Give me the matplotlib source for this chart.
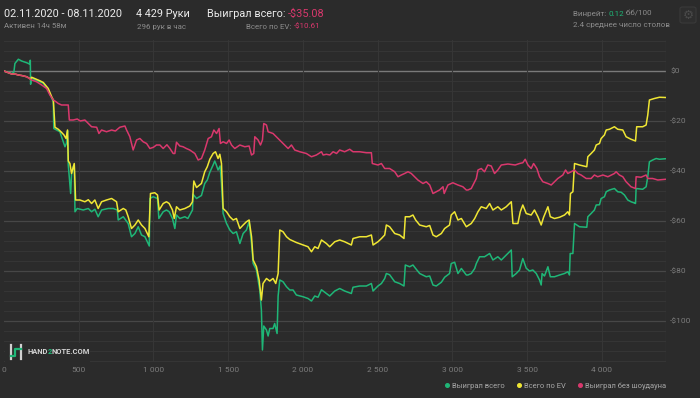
import numpy as np
import matplotlib
matplotlib.use('Agg')
import matplotlib.pyplot as plt
from matplotlib.patches import Rectangle, FancyBboxPatch
from matplotlib.lines import Line2D

plt.rcParams['font.family'] = ['Roboto', 'DejaVu Sans']

# ---- data (hands, $) ----
green_h = [0, 51, 66, 73, 96, 118, 152, 170, 176, 178, 182, 185, 240, 263, 296, 319, 330, 333, 352, 374, 385,
           408, 418, 425, 430, 446, 452, 465, 470, 475, 490, 530, 564, 586, 608, 630, 653, 697, 731, 758, 764,
           798, 831, 853, 876, 898, 920, 943, 972, 976, 998, 1027, 1036, 1065, 1087, 1105, 1127, 1143, 1154,
           1176, 1210, 1230, 1243, 1261, 1265, 1288, 1321, 1343, 1360, 1377, 1399, 1410, 1420, 1432, 1446,
           1455, 1466, 1489, 1511, 1533, 1555, 1578, 1600, 1622, 1640, 1656, 1667, 1689, 1711, 1722, 1729,
           1738, 1756, 1767, 1778, 1800, 1811, 1827, 1834, 1845, 1867, 1890, 1912, 1934, 1956, 2001, 2034,
           2057, 2079, 2101, 2124, 2157, 2179, 2213, 2246, 2279, 2324, 2335, 2380, 2424, 2458, 2469, 2502,
           2525, 2547, 2558, 2580, 2614, 2647, 2676, 2685, 2714, 2736, 2754, 2781, 2825, 2848, 2870, 2892,
           2926, 2948, 2981, 2992, 3015, 3037, 3060, 3093, 3104, 3126, 3149, 3160, 3182, 3215, 3249, 3271,
           3304, 3327, 3360, 3394, 3400, 3427, 3449, 3471, 3494, 3516, 3538, 3561, 3583, 3594, 3600, 3616,
           3639, 3655, 3683, 3717, 3750, 3772, 3783, 3788, 3806, 3817, 3850, 3899, 3906, 3928, 3950, 3962,
           3984, 3995, 4017, 4029, 4051, 4084, 4106, 4129, 4151, 4173, 4195, 4218, 4225, 4229, 4273, 4296,
           4307, 4318, 4340, 4363, 4385, 4429]
green_v = [0, -1, -0.5, 3, 4.7, 4, 3.3, 2.8, 4.3, -5.3, -3, -2.9, -4.3, -4.9, -7.6, -10.9, -12.3, -23, -23.6, -24.3, -26.3,
           -30.3, -28.9, -23.9, -37.6, -49, -41, -38, -37.6, -56.3, -55, -55.6, -55, -56.3, -55.3, -58.3, -55.6, -55, -55, -55.6, -59.6,
           -58.3, -61, -66.3, -65, -62.3, -65.6, -66.3, -70, -51, -50.3, -51, -59, -56.3, -55.6, -56.3, -59, -63, -57.6,
           -59, -58.3, -59, -57.6, -55.6, -49.3, -51, -49.8, -45, -43.6, -40.5, -37.6, -36, -37.5, -39.6, -38,
           -45, -57, -61, -63.6, -65, -64.3, -69, -65, -63.6, -60.3, -69, -77, -79.6, -87.6, -95.6, -111.6,
           -102, -103.6, -106, -103, -103, -101, -105, -90, -83.6, -84.3, -86.3, -87.6, -87.6, -89.6, -90.3, -91,
           -92, -90, -90.5, -87.5, -89, -90, -88, -87, -88, -89, -86.5, -86, -86, -85, -88, -86,
           -85, -83, -81, -81.5, -84.3, -85, -86, -77.6, -78.3, -77.6, -79, -81, -82.3, -82, -85.6, -86,
           -84.5, -82.5, -81, -77, -76.5, -81, -79, -81.6, -81.6, -81, -79, -77, -74.3, -74.3, -73, -75.6,
           -74.3, -75.6, -73.6, -71.6, -82.3, -81, -79.6, -75, -78.9, -80, -79.6, -81, -83.6, -85.6, -81, -82,
           -78.3, -82.3, -82.3, -81.6, -81, -80.3, -81.6, -73, -73, -61, -62.3, -62.5, -58.3, -57, -55.6, -53.6,
           -53.5, -51, -50.3, -48.3, -47.6, -47, -48.3, -48.5, -49.6, -51.6, -52.3, -52.8, -53, -47, -47.3, -46.3,
           -42.3, -36.3, -35.6, -35, -35.3, -35.08]

ev_h = [0, 51, 73, 96, 118, 152, 178, 185, 240, 263, 296, 319, 330, 341, 363, 381, 400, 415, 425, 430,
        441, 452, 470, 479, 508, 541, 564, 586, 608, 630, 653, 686, 720, 753, 764, 798, 815, 831, 853, 876,
        898, 920, 943, 969, 980, 1009, 1027, 1038, 1065, 1087, 1105, 1127, 1139, 1154, 1176, 1210, 1243, 1261,
        1270, 1288, 1321, 1343, 1360, 1377, 1399, 1415, 1432, 1444, 1455, 1466, 1489, 1511, 1533, 1555, 1578,
        1600, 1622, 1640, 1656, 1667, 1689, 1707, 1722, 1733, 1756, 1778, 1800, 1818, 1834, 1845, 1867, 1890,
        1912, 1956, 2001, 2034, 2057, 2079, 2101, 2124, 2157, 2179, 2213, 2246, 2279, 2324, 2335, 2380, 2424,
        2458, 2469, 2502, 2525, 2547, 2558, 2580, 2614, 2647, 2676, 2685, 2714, 2736, 2754, 2781, 2825, 2848,
        2870, 2892, 2926, 2948, 2981, 2992, 3015, 3037, 3060, 3093, 3126, 3149, 3171, 3193, 3226, 3249, 3271,
        3304, 3327, 3360, 3394, 3405, 3438, 3454, 3471, 3494, 3527, 3549, 3572, 3594, 3610, 3639, 3655, 3683,
        3717, 3750, 3772, 3783, 3790, 3806, 3817, 3850, 3899, 3906, 3928, 3950, 3962, 3984, 3995, 4017, 4029,
        4051, 4084, 4106, 4140, 4162, 4195, 4225, 4233, 4273, 4296, 4307, 4318, 4351, 4385, 4429]
ev_v = [0, -1.2, -1.2, -1.6, -1.8, -2.3, -3.2, -2.5, -3.9, -4.6, -7, -10.3, -11.6, -22.5, -23.3, -24.3, -25.5, -27, -23.6, -36,
        -37, -41, -37, -51.6, -51.6, -52.3, -51.5, -53, -51.6, -55, -52.3, -51.6, -51, -52.3, -56.3, -55, -55.6, -58.3, -63, -61.6,
        -59.6, -61.6, -63, -66.3, -49, -48.7, -49.6, -55.6, -53, -52.3, -53, -55.6, -59, -54.3, -55.6, -55, -54, -52.3,
        -44, -46.6, -45, -40.3, -38.3, -35.3, -33, -32.3, -35, -33.3, -37, -55, -56.3, -58.3, -59.6, -59, -63,
        -61.6, -60.3, -59.6, -66.3, -75.6, -78.3, -83.6, -91.6, -85, -83, -84, -83, -85, -81, -63.6, -64.3, -66.3,
        -67.4, -68.6, -69.6, -70.3, -72.3, -70.3, -71, -67.6, -69, -70.3, -68.3, -67.6, -68.3, -69.6, -67, -66.3, -66.3,
        -65.6, -69.6, -68.3, -67, -65.6, -61.6, -62.3, -65, -65.6, -67, -58.3, -58.3, -57.6, -59.6, -61.6, -62.3, -61.8,
        -65.6, -66.3, -65, -63, -61.6, -57.6, -56.3, -59.6, -59, -62.3, -61, -59, -56.3, -54.3, -55, -53, -55.6,
        -54.3, -55.6, -54.3, -52.3, -61, -61, -56.3, -53.6, -57, -57.6, -55.6, -58.3, -61.6, -58.5, -54.3, -58.3, -59,
        -58.5, -57.6, -56.3, -57.6, -49, -48.3, -37, -37.6, -38.3, -34.3, -33, -31.6, -29.6, -29, -27, -25.6, -23.6,
        -23.3, -22.3, -23.3, -23.6, -26.3, -27.3, -28, -22.3, -22.3, -21.6, -17.6, -11.6, -11, -10.5, -10.61]

nsd_h = [0, 51, 73, 96, 118, 152, 185, 218, 252, 285, 307, 330, 348, 363, 385, 430, 437, 463, 490, 510,
         541, 564, 586, 620, 635, 653, 686, 720, 745, 775, 809, 820, 842, 864, 887, 909, 931, 954, 976, 1000,
         1020, 1043, 1065, 1090, 1110, 1132, 1143, 1154, 1176, 1198, 1220, 1243, 1277, 1299, 1321, 1343, 1366,
         1388, 1404, 1422, 1439, 1448, 1466, 1489, 1506, 1522, 1544, 1578, 1611, 1640, 1656, 1671, 1678, 1700,
         1716, 1729, 1738, 1756, 1767, 1800, 1834, 1856, 1878, 1901, 1923, 1945, 1979, 2023, 2057, 2090, 2124,
         2135, 2157, 2180, 2202, 2225, 2246, 2279, 2313, 2335, 2380, 2424, 2458, 2464, 2502, 2525, 2547, 2580,
         2614, 2636, 2658, 2680, 2703, 2725, 2747, 2769, 2803, 2825, 2848, 2870, 2892, 2914, 2937, 2945, 2970,
         3003, 3037, 3070, 3093, 3104, 3126, 3149, 3160, 3171, 3193, 3215, 3237, 3260, 3282, 3304, 3327, 3371,
         3420, 3449, 3471, 3487, 3505, 3527, 3543, 3565, 3583, 3605, 3639, 3661, 3683, 3705, 3739, 3757, 3772,
         3795, 3817, 3839, 3861, 3895, 3928, 3950, 3972, 4007, 4040, 4084, 4095, 4117, 4140, 4162, 4195, 4225,
         4229, 4262, 4296, 4307, 4340, 4374, 4429]
nsd_v = [0, -1.2, -1.2, -1.6, -1.8, -2.3, -3.6, -4.3, -5.6, -7, -9.6, -11.6, -12.3, -13, -13.6, -13.6, -19.6, -19.6, -19.2, -20,
         -19.6, -21, -22.3, -22.5, -25, -23.6, -24.3, -23.6, -24, -22.5, -22, -23.6, -26.3, -31.6, -27.6, -27, -28.3, -29, -31, -30.5,
         -29.6, -29.6, -31, -29.5, -31, -33, -33, -28.5, -30, -30.3, -31, -31.6, -33, -35.6, -35, -31.6, -27,
         -26.3, -23.6, -25, -23, -29, -28.3, -29, -27.6, -29.6, -31, -29.6, -30.3, -30, -33.6, -33, -26.3, -27.6,
         -29.6, -27.6, -21, -21.6, -24.3, -25, -27, -28.3, -29.6, -31, -29.6, -31.6, -32.3, -33, -34.3, -33.6, -32.3,
         -33.6, -33.3, -33.6, -32.3, -33, -31.6, -32.3, -31.3, -32.3, -32.3, -32.7, -32.7, -37, -37.6, -37, -39, -39,
         -40.3, -42.3, -41.6, -41, -40.3, -41, -42.3, -43.6, -45, -44.3, -45.6, -49, -48.3, -47.6, -46.3, -49, -45.6,
         -44.7, -45.6, -46.3, -47.6, -47.6, -47, -44.3, -43, -39.6, -39, -40.3, -37.6, -38, -41, -39.6, -37.6, -37.2,
         -37.6, -37, -36.7, -35.3, -37.6, -39, -37, -39, -42.3, -44.3, -45, -45.6, -44.3, -43, -41.6, -39.6, -41,
         -40.3, -39.6, -41, -41.6, -43, -43, -41.6, -42.3, -41.6, -42.3, -41, -40.3, -41.6, -42.3, -44.3, -46.3, -47,
         -42.3, -42.5, -41.6, -43, -43, -43.6, -43.3]

x_ticks = [0, 500, 1000, 1500, 2000, 2500, 3000, 3500, 4000]
x_labels = ['0', '500', '1 000', '1 500', '2 000', '2 500', '3 000', '3 500', '4 000']
y_ticks = [0, -20, -40, -60, -80, -100]
y_labels = ['$0', '-$20', '-$40', '-$60', '-$80', '-$100']
series_names = ['Выиграл всего', 'Всего по EV', 'Выиграл без шоудауна']

BG = '#2b2b2b'
GREEN = '#1fb677'
YELLOW = '#efe634'
PINK = '#d9386d'
GRAY = '#8c8c8c'
WHITE = '#ececec'
W, H = 700, 398


def fx(px):
    return px / W


def fy(py):
    return 1 - py / H


fig = plt.figure(figsize=(7, 3.98), dpi=100, facecolor=BG)
ax = fig.add_axes([fx(4), fy(362), fx(666) - fx(4), fy(40) - fy(362)])
ax.set_facecolor(BG)
ax.set_xlim(0, 4429)
ax.set_ylim(-116.4, 12.4)

# grid
for v in np.arange(-116, 13, 4):
    ax.axhline(v, color='#353535', lw=0.8, zorder=0)
for v in y_ticks[1:]:
    ax.axhline(v, color='#474747', lw=0.9, zorder=0)
ax.axhline(0, color='#7a7a7a', lw=1.0, zorder=0)
for v in x_ticks[1:]:
    ax.axvline(v, color='#363636', lw=0.8, zorder=0)
ax.axvline(4429, color='#3c3c3c', lw=0.9, zorder=0)

ax.plot(green_h, green_v, color=GREEN, lw=1.1, zorder=3)
ax.plot(ev_h, ev_v, color=YELLOW, lw=1.1, zorder=3)
ax.plot(nsd_h, nsd_v, color=PINK, lw=1.1, zorder=3)

for s in ax.spines.values():
    s.set_visible(False)
ax.yaxis.tick_right()
ax.set_yticks(y_ticks)
ax.set_yticklabels(y_labels)
ax.set_xticks(x_ticks)
ax.set_xticklabels(x_labels)
ax.tick_params(axis='both', length=0, colors='#7c7c7c', labelsize=6)
ax.tick_params(axis='y', pad=3)
ax.tick_params(axis='x', pad=3.5)

# legend
handles = [Line2D([], [], ls='none', marker='o', ms=2.6, color=c) for c in (GREEN, YELLOW, PINK)]
fig.legend(handles, series_names, loc='center right', bbox_to_anchor=(fx(666), fy(386)),
           ncol=3, frameon=False, fontsize=5.4, labelcolor='#a8a8a8', handlelength=0.5,
           handletextpad=0.45, columnspacing=1.6, borderaxespad=0, borderpad=0)

# header texts
fig.text(fx(4), fy(14), '02.11.2020 - 08.11.2020', color=WHITE, fontsize=7.8, va='center')
fig.text(fx(4), fy(26.5), 'Активен 14ч 58м', color=GRAY, fontsize=5.7, va='center')
fig.text(fx(136), fy(14), '4 429 Руки', color=WHITE, fontsize=7.8, va='center')
fig.text(fx(137), fy(26.5), '296 рук в час', color=GRAY, fontsize=5.7, va='center')

t1 = fig.text(fx(207), fy(14), 'Выиграл всего: ', color=WHITE, fontsize=7.8, va='center')
ax.annotate('-$35.08', xy=(1, 0), xycoords=t1, va='bottom', ha='left', color=PINK, fontsize=7.8,
            annotation_clip=False)
t2 = fig.text(fx(320), fy(26.5), '-$10.61', color=PINK, fontsize=5.7, va='center', ha='right')
ax.annotate('Всего по EV: ', xy=(0, 0), xycoords=t2, va='bottom', ha='right', color=GRAY, fontsize=5.7,
            annotation_clip=False)

t3 = fig.text(fx(573), fy(14), 'Винрейт: ', color=GRAY, fontsize=5.8, va='center')
t4 = ax.annotate('0.12', xy=(1, 0), xycoords=t3, va='bottom', ha='left', color=GREEN, fontsize=5.8,
                 annotation_clip=False)
ax.annotate(' бб/100', xy=(1, 0), xycoords=t4, va='bottom', ha='left', color=GRAY, fontsize=5.8,
            annotation_clip=False)
fig.text(fx(573), fy(25), '2.4 среднее число столов', color=GRAY, fontsize=5.8, va='center')

# settings button
btn = FancyBboxPatch((fx(680), fy(23)), fx(696) - fx(680), fy(7) - fy(23),
                     boxstyle='round,pad=0,rounding_size=0.004', transform=fig.transFigure,
                     facecolor='#2e2e2e', edgecolor='#3a3a3a', lw=0.8)
fig.patches.append(btn)
fig.text(fx(688), fy(15), '\u2699', color='#4a4a4a', fontsize=9, ha='center', va='center',
         family='DejaVu Sans')

# watermark
ax.add_patch(Rectangle((fx(5), fy(362)), fx(90) - fx(5), fy(343) - fy(362), transform=fig.transFigure,
                       facecolor=BG, edgecolor='none', zorder=4, clip_on=False))
for xx in (10.5, 21):
    ax.add_line(Line2D([fx(xx), fx(xx)], [fy(345), fy(358.5)], transform=fig.transFigure,
                       color='#d0d0d0', lw=1.6, zorder=5, clip_on=False))
ax.add_line(Line2D([fx(11), fx(15.5), fx(15.5), fx(20.5)], [fy(355.5), fy(355.5), fy(349), fy(349)],
                   transform=fig.transFigure, color=GREEN, lw=1.6, zorder=6, clip_on=False))
w1 = fig.text(fx(27), fy(352), 'HAND', color='#d4d4d4', fontsize=5.4, fontweight='bold', va='center',
              zorder=7)
w2 = ax.annotate('2', xy=(1, 0), xycoords=w1, va='bottom', ha='left', color=GREEN, fontsize=5.4,
                 fontweight='bold', annotation_clip=False, zorder=7)
ax.annotate('NOTE.COM', xy=(1, 0), xycoords=w2, va='bottom', ha='left', color='#d4d4d4', fontsize=5.4,
            fontweight='bold', annotation_clip=False, zorder=7)

fig.savefig('out.png', dpi=100, facecolor=BG)
